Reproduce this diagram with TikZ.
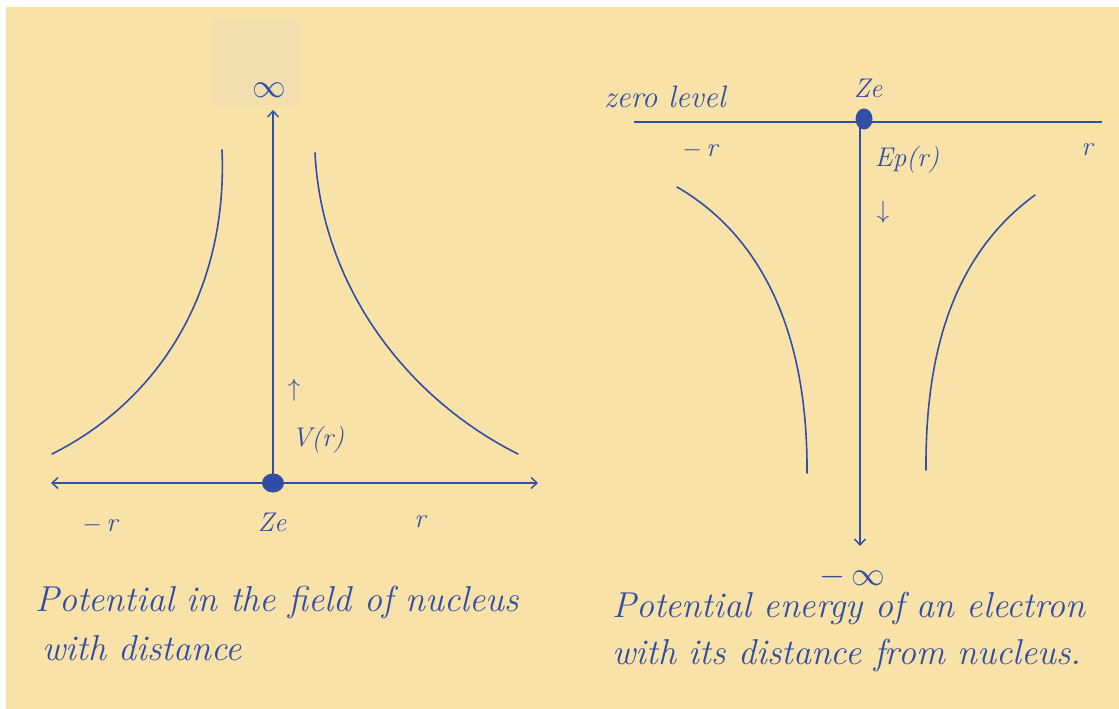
\documentclass[tikz,border=0pt]{standalone}
\usetikzlibrary{arrows.meta}
\definecolor{paper}{RGB}{249,226,168}
\definecolor{ink}{RGB}{48,78,165}
\definecolor{stampgrey}{RGB}{241,223,176}
\begin{document}
\begin{tikzpicture}[x=1pt,y=-1pt,
  inkline/.style={draw=ink,line width=1.6pt,line cap=round},
  axisline/.style={draw=ink,line width=1.3pt},
  arrowtip/.style={-{Straight Barb[length=6pt,width=11pt,line width=1.4pt]}},
  lbl/.style={text=ink,font=\fontsize{27}{31}\selectfont\itshape,inner sep=0pt},
  biglbl/.style={text=ink,font=\fontsize{31}{35}\selectfont\itshape,inner sep=0pt},
  inflbl/.style={text=ink,font=\fontsize{27}{31}\selectfont,inner sep=0pt,scale=1.35},
  captext/.style={text=ink,font=\fontsize{36}{40}\selectfont\itshape,inner sep=0pt,anchor=west}]
% page
\fill[white] (0,0) rectangle (1119,709);
\fill[paper] (6,7) rectangle (1119,709);
\fill[stampgrey] (213,18) rectangle (298,105);
\useasboundingbox (0,0) rectangle (1119,709);

% ---------------- left diagram ----------------
\coordinate (LO) at (273,483);
\coordinate (LL) at (51,483);
\coordinate (LR) at (538,483);
\coordinate (LT) at (273,110);
\draw[axisline,arrowtip] (LO) -- (LL);
\draw[axisline,arrowtip] (LO) -- (LR);
\draw[axisline,arrowtip] (LO) -- (LT);
\fill[ink] (LO) ellipse (11pt and 9.5pt);
\node[inflbl] (linf) at (269,90) {$\infty$};
\node[lbl] (lup) at (294,390) {$\uparrow$};
\node[lbl] (lV) at (318,440) {V(r)};
\node[lbl] (lmr) at (100,525) {$-$\,r};
\node[lbl] (lZe) at (272,522) {Ze};
\node[lbl] (lr) at (420,522) {r};
\draw[inkline] (52,454) .. controls (160,400) and (228,290) .. (222,150);
\draw[inkline] (315,153) .. controls (322,290) and (410,400) .. (518,454);
\node[captext] (lcap1) at (35,602) {Potential in the field of nucleus};
\node[captext] (lcap2) at (42,648) {with distance};

% ---------------- right diagram ----------------
\coordinate (RA) at (634,122);
\coordinate (RB) at (1102,122);
\coordinate (RO) at (860,122);
\coordinate (RD) at (860,546);
\draw[axisline] (RA) -- (RB);
\draw[axisline,arrowtip] (RO) -- (RD);
\fill[ink] (864,119) ellipse (8.5pt and 10.5pt);
\node[biglbl,anchor=west] (zl) at (604,97) {zero level};
\node[lbl] (rZe) at (868,88) {Ze};
\node[lbl] (rmr) at (700,150) {$-$\,r};
\node[lbl] (rr) at (1087,150) {r};
\node[lbl] (rEp) at (907,160) {Ep(r)};
\node[lbl] (rdown) at (883,212) {$\downarrow$};
\node[inflbl] (rminf) at (852,577) {$-\,\infty$};
\draw[inkline] (677,187) .. controls (760,235) and (808,330) .. (807,473);
\draw[inkline] (1035,195) .. controls (960,250) and (925,340) .. (926,470);
\node[captext] (rcap1) at (612,608) {Potential energy of an electron};
\node[captext] (rcap2) at (612,655) {with its distance from nucleus.};
\end{tikzpicture}
\end{document}
